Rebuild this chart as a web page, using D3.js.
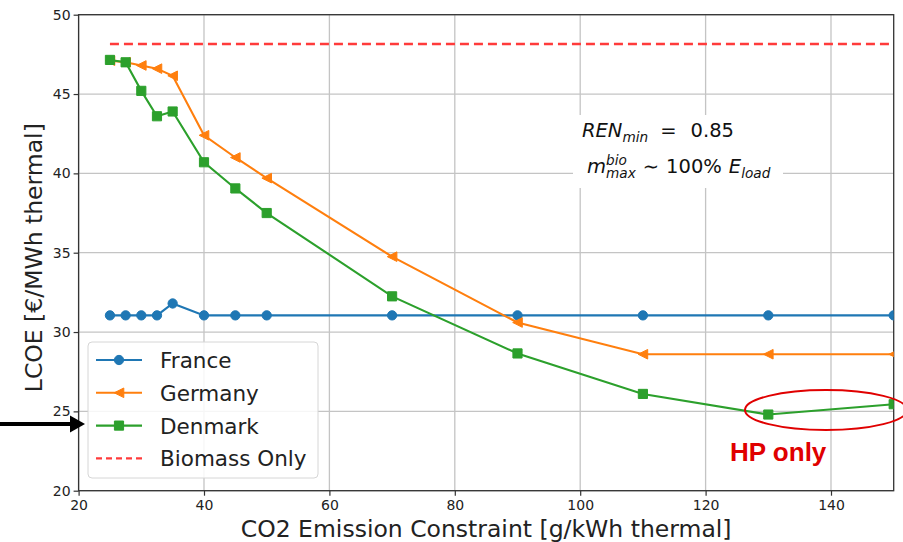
<!DOCTYPE html>
<html>
<head>
<meta charset="utf-8">
<script src="https://cdn.jsdelivr.net/npm/d3@7"></script>
<style>
  body { margin: 0; background: #fff; }
  svg { display: block; font-family: "DejaVu Sans", sans-serif; }
</style>
</head>
<body>
<svg id="chart" width="903" height="542"></svg>
<script>
// data
const emission = [25, 27.5, 30, 32.5, 35, 40, 45, 50, 70, 90, 110, 130, 150];
const france   = [31.05, 31.05, 31.05, 31.05, 31.8, 31.05, 31.05, 31.05, 31.05, 31.05, 31.05, 31.05, 31.05];
const germany  = [47.1, 47.0, 46.8, 46.6, 46.15, 42.4, 41.0, 39.7, 34.75, 30.6, 28.6, 28.6, 28.6];
const denmark  = [47.15, 47.0, 45.2, 43.6, 43.9, 40.7, 39.05, 37.5, 32.25, 28.65, 26.1, 24.8, 25.45];
const biomassX = [25, 150];
const biomassY = [48.15, 48.15];
const xTicks = [20, 40, 60, 80, 100, 120, 140];
const yTicks = [20, 25, 30, 35, 40, 45, 50];

const svg = d3.select('#chart');
const plot = { left: 78.6, right: 893.7, top: 14.7, bottom: 490.7 };

const x = d3.scaleLinear().domain([20, 150]).range([plot.left, plot.right]);
const y = d3.scaleLinear().domain([20, 50]).range([plot.bottom, plot.top]);

svg.append('defs').append('clipPath').attr('id', 'clip')
  .append('rect')
    .attr('x', plot.left).attr('y', plot.top)
    .attr('width', plot.right - plot.left).attr('height', plot.bottom - plot.top);

// grid
const grid = svg.append('g').attr('stroke', '#c4c4c4').attr('stroke-width', 1.3);
grid.selectAll('.gx').data(xTicks).join('line')
  .attr('x1', d => x(d)).attr('x2', d => x(d))
  .attr('y1', plot.top).attr('y2', plot.bottom);
grid.selectAll('.gy').data(yTicks).join('line')
  .attr('y1', d => y(d)).attr('y2', d => y(d))
  .attr('x1', plot.left).attr('x2', plot.right);

// annotation box sits over the grid
svg.append('rect')
  .attr('x', 573).attr('y', 115).attr('width', 210).attr('height', 73)
  .attr('fill', '#fff');

// axes
const xAxis = svg.append('g')
  .attr('transform', `translate(0,${plot.bottom})`)
  .call(d3.axisBottom(x).tickValues(xTicks).tickSize(5).tickPadding(4));
const yAxis = svg.append('g')
  .attr('transform', `translate(${plot.left},0)`)
  .call(d3.axisLeft(y).tickValues(yTicks).tickSize(5).tickPadding(3));
[xAxis, yAxis].forEach(a => {
  a.select('.domain').remove();
  a.selectAll('line').attr('stroke', '#333').attr('stroke-width', 1.2);
  a.selectAll('text').attr('fill', '#222')
    .style('font-size', '14px').style('font-family', '"DejaVu Sans", sans-serif');
});

svg.append('rect')
  .attr('x', plot.left).attr('y', plot.top)
  .attr('width', plot.right - plot.left).attr('height', plot.bottom - plot.top)
  .attr('fill', 'none').attr('stroke', '#333').attr('stroke-width', 1.3);

// series
const series = [
  { name: 'France',  color: '#1f77b4', values: france,  marker: 'circle' },
  { name: 'Germany', color: '#ff7f0e', values: germany, marker: 'triangle' },
  { name: 'Denmark', color: '#2ca02c', values: denmark, marker: 'square' }
];

function markerPath(kind) {
  if (kind === 'circle') return d3.symbol(d3.symbolCircle, 68)();
  if (kind === 'square') return d3.symbol(d3.symbolSquare, 84)();
  return 'M-4.8,0L4.8,-4.8L4.8,4.8Z';
}

const line = d3.line().x(d => x(d[0])).y(d => y(d[1]));
const data = svg.append('g').attr('clip-path', 'url(#clip)');

series.forEach(s => {
  const pts = emission.map((e, i) => [e, s.values[i]]);
  data.append('path').datum(pts)
    .attr('d', line).attr('fill', 'none')
    .attr('stroke', s.color).attr('stroke-width', 2.1);
  data.selectAll(null).data(pts).join('path')
    .attr('transform', d => `translate(${x(d[0])},${y(d[1])})`)
    .attr('d', markerPath(s.marker))
    .attr('fill', s.color).attr('stroke', s.color).attr('stroke-width', 1);
});

data.append('path').datum(biomassX.map((b, i) => [b, biomassY[i]]))
  .attr('d', line).attr('fill', 'none')
  .attr('stroke', '#ff3b3b').attr('stroke-width', 2.4)
  .attr('stroke-dasharray', '9,5');

// axis titles
svg.append('text')
  .attr('x', (plot.left + plot.right) / 2).attr('y', 537)
  .attr('text-anchor', 'middle').attr('fill', '#222')
  .style('font-size', '23.5px')
  .text('CO2 Emission Constraint [g/kWh thermal]');
svg.append('text')
  .attr('transform', `translate(42,${(plot.top + plot.bottom) / 2 + 5}) rotate(-90)`)
  .attr('text-anchor', 'middle').attr('fill', '#222')
  .style('font-size', '23.5px')
  .text('LCOE [€/MWh thermal]');

// math-style annotation
function mathLine(px, py, size, tokens) {
  const g = svg.append('g').attr('fill', '#111');
  let cx = px;
  const put = (t, tx, ty, fs, it) => {
    const el = g.append('text').attr('x', tx).attr('y', ty)
      .style('font-size', fs + 'px').style('font-style', it ? 'italic' : 'normal')
      .text(t);
    return el.node().getComputedTextLength();
  };
  tokens.forEach(tok => {
    if (tok.gap) { cx += tok.gap; return; }
    cx += put(tok.t, cx, py, size, tok.it);
    let w = 0;
    if (tok.sub) w = Math.max(w, put(tok.sub, cx, py + size * 0.26, size * 0.7, true));
    if (tok.sup) w = Math.max(w, put(tok.sup, cx, py - size * 0.42, size * 0.7, true));
    cx += w;
  });
}
mathLine(582, 137, 19.5, [
  { t: 'REN', it: true, sub: 'min' }, { gap: 12 },
  { t: '=' }, { gap: 14 }, { t: '0.85' }
]);
mathLine(587, 173, 19.5, [
  { t: 'm', it: true, sub: 'max', sup: 'bio' }, { gap: 7 },
  { t: '∼' }, { gap: 7 }, { t: '100%' }, { gap: 7 },
  { t: 'E', it: true, sub: 'load' }
]);

// legend
const legend = svg.append('g');
legend.append('rect')
  .attr('x', 88).attr('y', 342).attr('width', 230).attr('height', 136)
  .attr('rx', 4).attr('fill', '#fff').attr('fill-opacity', 0.85)
  .attr('stroke', '#d6d6d6').attr('stroke-width', 1);
const legendItems = series.map(s => ({ ...s, dash: null }))
  .concat([{ name: 'Biomass Only', color: '#ff3b3b', marker: null, dash: '6,4' }]);
legendItems.forEach((s, i) => {
  const ly = 360 + i * 32.8;
  legend.append('line')
    .attr('x1', 96).attr('x2', 142).attr('y1', ly).attr('y2', ly)
    .attr('stroke', s.color).attr('stroke-width', s.dash ? 2.4 : 2.1)
    .attr('stroke-dasharray', s.dash);
  if (s.marker) {
    legend.append('path')
      .attr('transform', `translate(119,${ly})`)
      .attr('d', markerPath(s.marker))
      .attr('fill', s.color).attr('stroke', s.color);
  }
  legend.append('text')
    .attr('x', 160).attr('y', ly + 8).attr('fill', '#222')
    .style('font-size', '21.5px')
    .text(s.name);
});

// overlay: arrow, ellipse, label
svg.append('line')
  .attr('x1', 0).attr('x2', 72).attr('y1', 424).attr('y2', 424)
  .attr('stroke', '#000').attr('stroke-width', 4);
svg.append('path')
  .attr('d', 'M70,415.5L85,424L70,432.5Z').attr('fill', '#000');

svg.append('ellipse')
  .attr('cx', 826).attr('cy', 410).attr('rx', 81).attr('ry', 20)
  .attr('fill', 'none').attr('stroke', '#e00000').attr('stroke-width', 2);

svg.append('text')
  .attr('x', 730).attr('y', 461).attr('fill', '#e00000')
  .style('font-family', '"Liberation Sans", Arial, sans-serif')
  .style('font-weight', 'bold').style('font-size', '26px')
  .text('HP only');
</script>
</body>
</html>
